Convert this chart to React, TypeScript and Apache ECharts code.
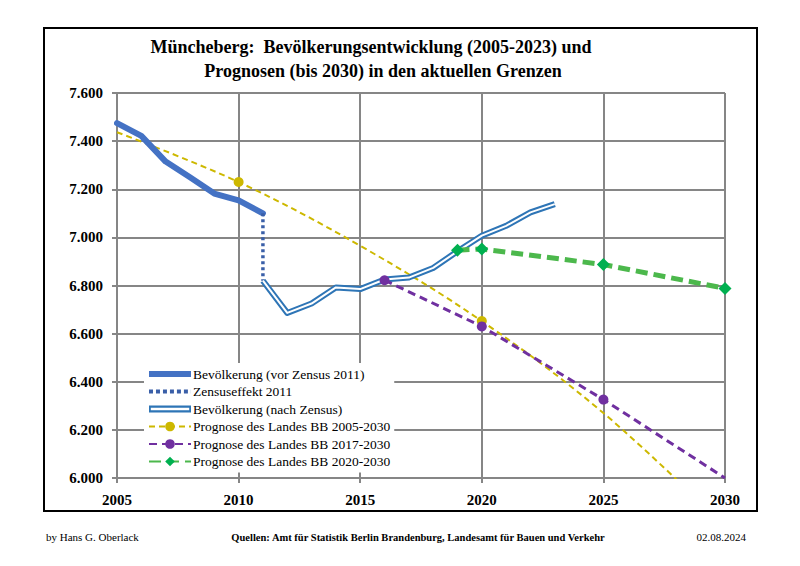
import React, { useEffect, useRef } from "react";
import * as echarts from "echarts";

const preCensusYears = [2005, 2006, 2007, 2008, 2009, 2010, 2011];
const preCensusValues = [7475, 7422, 7315, 7250, 7182, 7154, 7100];

const censusYears = [2011, 2011];
const censusValues = [7100, 6820];

const postCensusYears = [2011, 2012, 2013, 2014, 2015, 2016, 2017, 2018, 2019, 2020, 2021, 2022, 2023];
const postCensusValues = [6820, 6686, 6725, 6792, 6785, 6825, 6833, 6873, 6942, 7007, 7048, 7104, 7138];

const prog2005Years = [2005, 2010, 2015, 2020, 2025, 2030];
const prog2005Values = [7437, 7230, 6965, 6652, 6270, 5800];
const prog2005Markers = [false, true, false, true, false, false];

const prog2017Years = [2016, 2020, 2025, 2030];
const prog2017Values = [6822, 6630, 6326, 6000];
const prog2017Markers = [true, true, true, false];

const prog2020Years = [2019, 2020, 2025, 2030];
const prog2020Values = [6947, 6952, 6887, 6788];

const yTicks = [6000, 6200, 6400, 6600, 6800, 7000, 7200, 7400, 7600];
const xTicks = [2005, 2010, 2015, 2020, 2025, 2030];

const FONT = "Liberation Serif";

const pairs = (xs: number[], ys: number[]) => xs.map((x, i) => [x, ys[i]]);

export default function App() {
  const ref = useRef<HTMLDivElement>(null);
  useEffect(() => {
    document.body.style.margin = "0";
    const chart = echarts.init(ref.current!, null, { renderer: "svg" });
    const names = [
      "Bevölkerung (vor Zensus 2011)",
      "Zensuseffekt 2011",
      "Bevölkerung (nach Zensus)",
      "Prognose des Landes BB 2005-2030",
      "Prognose des Landes BB 2017-2030",
      "Prognose des Landes BB 2020-2030",
    ];
    chart.setOption({
      animation: false,
      backgroundColor: "#ffffff",
      grid: { left: 117, right: 75, top: 93, bottom: 88, containLabel: false },
      xAxis: {
        type: "value",
        min: xTicks[0],
        max: xTicks[xTicks.length - 1],
        interval: 5,
        axisLine: { show: true, lineStyle: { color: "#868686", width: 2 } },
        axisTick: { show: true, inside: false, length: 5, lineStyle: { color: "#868686", width: 2 } },
        splitLine: { show: true, lineStyle: { color: "#868686", width: 2 } },
        axisLabel: {
          formatter: (v: number) => String(v),
          color: "#000",
          fontFamily: FONT,
          fontWeight: "bold",
          fontSize: 15,
          margin: 14,
        },
      },
      yAxis: {
        type: "value",
        min: yTicks[0],
        max: yTicks[yTicks.length - 1],
        interval: 200,
        axisLine: { show: true, lineStyle: { color: "#868686", width: 2 } },
        axisTick: { show: true, length: 5, lineStyle: { color: "#868686", width: 2 } },
        splitLine: { show: true, lineStyle: { color: "#868686", width: 2 } },
        axisLabel: {
          formatter: (v: number) => (v / 1000).toFixed(3),
          color: "#000",
          fontFamily: FONT,
          fontWeight: "bold",
          fontSize: 15,
          margin: 14,
        },
      },
      legend: {
        orient: "vertical",
        left: 144,
        top: 363,
        backgroundColor: "#ffffff",
        padding: [4, 4, 4, 4],
        itemGap: 3.5,
        itemWidth: 42,
        itemHeight: 12,
        textStyle: {
          fontFamily: FONT,
          fontSize: 13.5,
          lineHeight: 13,
          color: "#000",
          padding: [0, 0, 0, -3],
        },
        data: [
          { name: names[0], icon: "path://M0,0 L42,0 L42,6 L0,6 Z" },
          {
            name: names[1],
            icon:
              "path://M0,0 h4 v4 h-4 Z M7,0 h4 v4 h-4 Z M14,0 h4 v4 h-4 Z M21,0 h4 v4 h-4 Z M28,0 h4 v4 h-4 Z M35,0 h4 v4 h-4 Z M42,0 h0.1 v4 h-0.1 Z",
          },
          {
            name: names[2],
            icon: "path://M0,0 L42,0 L42,7 L0,7 Z M1.8,2.2 L1.8,4.8 L40.2,4.8 L40.2,2.2 Z",
          },
          { name: names[3] },
          { name: names[4] },
          { name: names[5] },
        ],
      },
      graphic: [
        {
          type: "rect",
          shape: { x: 44, y: 28, width: 713, height: 483 },
          style: { fill: "none", stroke: "#000", lineWidth: 2 },
          z: 100,
        },
        {
          type: "text",
          x: 371,
          y: 47,
          style: {
            text: "Müncheberg:  Bevölkerungsentwicklung (2005-2023) und",
            font: `bold 18px "${FONT}"`,
            fill: "#000",
            align: "center",
            verticalAlign: "middle",
          },
        },
        {
          type: "text",
          x: 383,
          y: 71,
          style: {
            text: "Prognosen (bis 2030) in den aktuellen Grenzen",
            font: `bold 18px "${FONT}"`,
            fill: "#000",
            align: "center",
            verticalAlign: "middle",
          },
        },
        {
          type: "text",
          x: 46,
          y: 537,
          style: { text: "by Hans G. Oberlack", font: `11px "${FONT}"`, fill: "#000", verticalAlign: "middle" },
        },
        {
          type: "text",
          x: 418,
          y: 537,
          style: {
            text: "Quellen: Amt für Statistik Berlin Brandenburg, Landesamt für Bauen und Verkehr",
            font: `bold 10.5px "${FONT}"`,
            fill: "#000",
            align: "center",
            verticalAlign: "middle",
          },
        },
        {
          type: "text",
          x: 746,
          y: 537,
          style: { text: "02.08.2024", font: `11px "${FONT}"`, fill: "#000", align: "right", verticalAlign: "middle" },
        },
      ],
      series: [
        {
          name: names[3],
          type: "line",
          smooth: 0.35,
          data: prog2005Years.map((x, i) => ({
            value: [x, prog2005Values[i]],
            symbol: prog2005Markers[i] ? "circle" : "none",
          })),
          symbol: "circle",
          symbolSize: 10,
          showAllSymbol: true,
          itemStyle: { color: "#CDB800" },
          lineStyle: { color: "#CDB800", width: 2, type: [6, 4] },
          z: 3,
        },
        {
          name: names[0],
          type: "line",
          data: pairs(preCensusYears, preCensusValues),
          symbol: "none",
          itemStyle: { color: "#4472C4" },
          lineStyle: { color: "#4472C4", width: 6, cap: "round", join: "round" },
          z: 4,
        },
        {
          name: names[1],
          type: "line",
          data: pairs(censusYears, censusValues),
          symbol: "none",
          itemStyle: { color: "#3A5FA8" },
          lineStyle: { color: "#3A5FA8", width: 3.5, type: [3, 3] },
          z: 4,
        },
        {
          name: names[2],
          type: "line",
          data: pairs(postCensusYears, postCensusValues),
          symbol: "none",
          itemStyle: { color: "#2E75B6" },
          lineStyle: { color: "#2E75B6", width: 6, join: "round" },
          z: 5,
        },
        {
          name: "inner",
          type: "line",
          data: pairs(postCensusYears, postCensusValues),
          symbol: "none",
          silent: true,
          itemStyle: { color: "#ffffff" },
          lineStyle: { color: "#ffffff", width: 2, join: "round" },
          z: 6,
        },
        {
          name: names[4],
          type: "line",
          data: prog2017Years.map((x, i) => ({
            value: [x, prog2017Values[i]],
            symbol: prog2017Markers[i] ? "circle" : "none",
          })),
          symbol: "circle",
          symbolSize: 10,
          showAllSymbol: true,
          itemStyle: { color: "#7030A0" },
          lineStyle: { color: "#7030A0", width: 3, type: [8, 5] },
          z: 7,
        },
        {
          name: names[5],
          type: "line",
          data: pairs(prog2020Years, prog2020Values),
          symbol: "diamond",
          symbolSize: 13,
          showAllSymbol: true,
          itemStyle: { color: "#00B050" },
          lineStyle: { color: "#4CB84C", width: 5, type: [12, 6] },
          z: 8,
        },
      ],
    });
    return () => chart.dispose();
  }, []);
  return <div ref={ref} style={{ width: 800, height: 566 }} />;
}
